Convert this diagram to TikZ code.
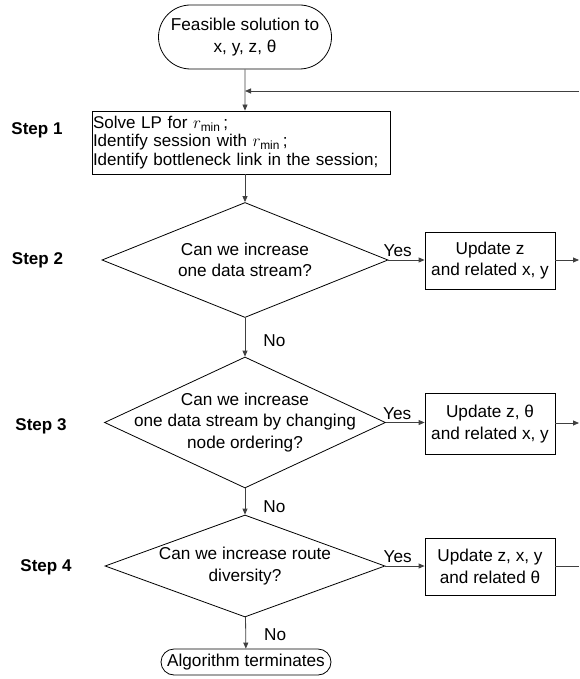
\documentclass[tikz,border=0pt]{standalone}
\usepackage{fontspec}
\setmainfont{Liberation Sans}
\usetikzlibrary{shapes.geometric,shapes.misc,arrows.meta,positioning,calc}

\tikzset{
	every node/.style={font=\fontsize{17.2}{21.5}\selectfont},
	term/.style={draw,line width=0.8pt,rounded rectangle,align=center,inner sep=1pt},
	proc/.style={draw,line width=0.8pt,rectangle,align=center,minimum width=130pt,minimum height=57pt,inner sep=1pt},
	decision/.style={draw,line width=0.8pt,diamond,inner sep=0pt},
	dectext/.style={align=center,inner sep=0pt},
	steplabel/.style={font=\fontsize{17}{21}\selectfont\bfseries,inner sep=0pt},
	answer/.style={inner sep=0pt},
	line/.style={draw=black!75,line width=0.8pt},
	arr/.style={line,-{Triangle[length=6pt,width=5pt]}}
}

\begin{document}
\begin{tikzpicture}[x=1pt,y=-1pt]
	\useasboundingbox (0,0) rectangle (579,679);

	\node[term,minimum width=175pt,minimum height=64pt] (start) at (245,37) {Feasible solution to\\x, y, z, θ};
	\node[draw,line width=0.8pt,text width=296pt,align=left,inner sep=1pt,minimum height=63pt,font=\fontsize{17}{18.5}\selectfont] (lp) at (241,142.5) {Solve LP for $r_{\min}$\,;\\Identify session with $r_{\min}$\,;\\Identify bottleneck link in the session;};

	\node[decision,minimum width=286pt,minimum height=115pt] (dec1) at (245,260) {};
	\node[dectext] (dec1t) at (dec1) {Can we increase\\one data stream?};
	\node[decision,minimum width=281pt,minimum height=131pt] (dec2) at (245,422.5) {};
	\node[dectext] (dec2t) at (dec2) {Can we increase\\one data stream by changing\\node ordering?};
	\node[decision,minimum width=280pt,minimum height=102pt] (dec3) at (245,566) {};
	\node[dectext] (dec3t) at (dec3) {Can we increase route\\diversity?};
	\node[term,minimum width=172pt,minimum height=26pt] (stop) at (246,662) {Algorithm terminates};

	\node[proc] (upd1) at (490,260.5) {Update z\\and related x, y};
	\node[proc,minimum height=61pt] (upd2) at (490,424) {Update z, θ\\and related x, y};
	\node[proc] (upd3) at (490,566.5) {Update z, x, y\\and related θ};

	\node[steplabel] (s1) at (37,130) {Step 1};
	\node[steplabel] (s2) at (37.5,260) {Step 2};
	\node[steplabel] (s3) at (41,426) {Step 3};
	\node[steplabel] (s4) at (46,567) {Step 4};

	\coordinate (fbin) at (245,91);
	\coordinate (fbr) at (579,91);
	\coordinate (out1) at (579,260);
	\coordinate (out2) at (579,423);
	\coordinate (out3) at (579,566);

	\draw[arr] (start) -- (start |- lp.north);
	\draw[arr] (fbr) -- (fbin);
	\draw[arr] (lp.south -| dec1.north) -- (dec1.north);
	\draw[arr] (dec1) -- (dec2) node[answer,pos=0.6,right=18pt] (no1) {No};
	\draw[arr] (dec2) -- (dec3) node[answer,pos=0.68,right=18pt] (no2) {No};
	\draw[arr] (dec3) -- (stop) node[answer,pos=0.55,right=18pt] (no3) {No};

	\draw[arr] (dec1.east) -- (dec1.east -| upd1.west);
	\draw[arr] (dec2.east) -- (dec2.east -| upd2.west);
	\draw[arr] (dec3.east) -- (dec3.east -| upd3.west);
	\node[answer,above right=3pt and -5pt of dec1.east] (yes1) {Yes};
	\node[answer,above right=3pt and -3pt of dec2.east] (yes2) {Yes};
	\node[answer,above right=3pt and -2pt of dec3.east] (yes3) {Yes};

	\draw[arr] (upd1.east |- out1) -- (out1);
	\draw[arr] (upd2.east |- out2) -- (out2);
	\draw[line] (upd3.east |- out3) -- (out3);
\end{tikzpicture}
\end{document}
